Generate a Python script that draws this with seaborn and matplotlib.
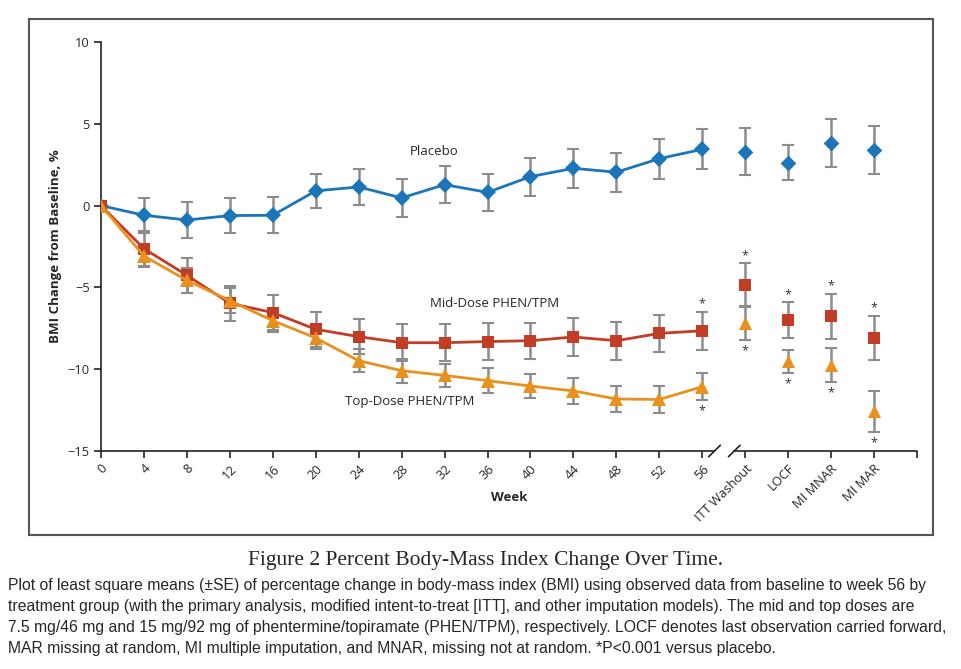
import numpy as np
import pandas as pd
import seaborn as sns
import matplotlib.pyplot as plt
from matplotlib.patches import Rectangle

# Values (percent BMI change, least square means +/- SE)
weeks = [0, 4, 8, 12, 16, 20, 24, 28, 32, 36, 40, 44, 48, 52, 56]
models = ['ITT Washout', 'LOCF', 'MI MNAR', 'MI MAR']

placebo_mean = [0, -0.59, -0.88, -0.61, -0.59, 0.90, 1.14, 0.47, 1.28, 0.81, 1.77, 2.28, 2.04, 2.87, 3.44]
placebo_se = [0, 1.06, 1.08, 1.08, 1.10, 1.06, 1.10, 1.14, 1.12, 1.15, 1.17, 1.19, 1.18, 1.22, 1.23]
placebo_model_mean = [3.30, 2.63, 3.81, 3.40]
placebo_model_se = [1.45, 1.08, 1.47, 1.49]

mid_mean = [0, -2.63, -4.26, -5.97, -6.54, -7.56, -8.01, -8.38, -8.38, -8.31, -8.26, -8.03, -8.26, -7.81, -7.65]
mid_se = [0, 1.06, 1.06, 1.07, 1.08, 1.08, 1.08, 1.12, 1.12, 1.11, 1.10, 1.14, 1.15, 1.14, 1.17]
mid_model_mean = [-4.83, -7.01, -6.77, -8.07]
mid_model_se = [1.30, 1.10, 1.39, 1.35]

top_mean = [0, -3.08, -4.57, -5.81, -7.03, -8.09, -9.48, -10.09, -10.38, -10.70, -11.03, -11.33, -11.82, -11.85, -11.07]
top_se = [0, 0.66, 0.75, 0.75, 0.70, 0.70, 0.72, 0.74, 0.70, 0.75, 0.76, 0.78, 0.80, 0.80, 0.83]
top_model_mean = [-7.20, -9.52, -9.72, -12.58]
top_model_se = [1.00, 0.71, 1.04, 1.24]

blue = '#1b76b9'
red = '#c23d26'
orange = '#e8911f'
bar_gray = '#8c8c8c'

sns.set_style('white')
plt.rcParams['font.family'] = ['Open Sans', 'DejaVu Sans']

fig = plt.figure(figsize=(9.61, 6.69), dpi=100)
ax = fig.add_axes([101 / 961, 1 - 451 / 669, 816 / 961, 409 / 669])

pos_weeks = np.arange(len(weeks))
pos_models = np.arange(len(weeks), len(weeks) + len(models))

groups = [
    ('Placebo', placebo_mean, placebo_se, placebo_model_mean, placebo_model_se, blue, 'D', 8),
    ('Mid-Dose PHEN/TPM', mid_mean, mid_se, mid_model_mean, mid_model_se, red, 's', 8),
    ('Top-Dose PHEN/TPM', top_mean, top_se, top_model_mean, top_model_se, orange, '^', 9.5),
]

for name, m, se, mm, mse, col, mk, ms in groups:
    df = pd.DataFrame({'pos': pos_weeks, 'val': m})
    dm = pd.DataFrame({'pos': pos_models, 'val': mm})
    ax.errorbar(pos_weeks[1:], m[1:], yerr=se[1:], fmt='none', ecolor=bar_gray,
                elinewidth=1.8, capsize=4, capthick=1.5, zorder=2)
    ax.errorbar(pos_models, mm, yerr=mse, fmt='none', ecolor=bar_gray,
                elinewidth=1.8, capsize=4, capthick=1.5, zorder=2)
    sns.lineplot(data=df, x='pos', y='val', color=col, lw=2, marker=mk,
                 markersize=ms, markeredgewidth=0, ax=ax, zorder=3)
    sns.scatterplot(data=dm, x='pos', y='val', color=col, marker=mk,
                    s=ms ** 2, linewidth=0, ax=ax, zorder=3)

# significance asterisks
star_kw = dict(ha='center', fontsize=9, color='#333333', textcoords='offset points')
sig_mid = [(pos_weeks[-1], mid_mean[-1], mid_se[-1])] + list(zip(pos_models, mid_model_mean, mid_model_se))
sig_top = [(pos_weeks[-1], top_mean[-1], top_se[-1])] + list(zip(pos_models, top_model_mean, top_model_se))
for p, m, s in sig_mid:
    ax.annotate('*', xy=(p, m + s), xytext=(0, 1), va='bottom', **star_kw)
for p, m, s in sig_top:
    ax.annotate('*', xy=(p, m - s), xytext=(0, -3), va='top', **star_kw)

# series labels
ax.text(7.18, 3.32, 'Placebo', fontsize=9.5, va='center', ha='left')
ax.text(7.67, -6.0, 'Mid-Dose PHEN/TPM', fontsize=9.5, va='center', ha='left')
ax.text(5.69, -11.97, 'Top-Dose PHEN/TPM', fontsize=9.5, va='center', ha='left')

ax.set_xlim(0, len(weeks) + len(models))
ax.set_ylim(-15, 10)
ax.set_yticks([-15, -10, -5, 0, 5, 10])
ax.set_yticklabels(['\u221215', '\u221210', '\u22125', '0', '5', '10'])
ax.set_xticks(np.arange(len(weeks) + len(models) + 1))
ax.set_xticklabels([str(w) for w in weeks] + models + [''], rotation=45,
                   ha='right', rotation_mode='anchor')
ax.tick_params(axis='both', direction='out', length=5, width=1.2, color='#222222',
               labelsize=9.3, pad=3, left=True, bottom=True)

for side in ['top', 'right', 'bottom']:
    ax.spines[side].set_visible(False)
ax.spines['left'].set_color('#222222')
ax.spines['left'].set_linewidth(1.2)

# broken x axis line with slashes
xt = ax.get_xaxis_transform()
gap_a, gap_b = 14.27, 14.73
ax.plot([0, gap_a], [0, 0], color='#222222', lw=1.2, transform=xt, clip_on=False)
ax.plot([gap_b, 19], [0, 0], color='#222222', lw=1.2, transform=xt, clip_on=False)
for g in (gap_a, gap_b):
    ax.plot([g - 0.12, g + 0.15], [-0.014, 0.014], color='#222222', lw=1.2,
            transform=xt, clip_on=False)

ax.set_xlabel('Week', fontsize=9.5, fontweight='bold')
ax.xaxis.set_label_coords((509 - 101) / 816, -(491 - 451) / 409)
ax.set_ylabel('BMI Change from Baseline, %', fontsize=9.5, fontweight='bold')
ax.yaxis.set_label_coords(-(101 - 62) / 816, 0.5)

# frame around the chart panel
fig.patches.append(Rectangle((29 / 961, 1 - 535 / 669), 904 / 961, 516 / 669,
                             transform=fig.transFigure, fill=False,
                             edgecolor='#555555', lw=1.5))

fig.text(486 / 961, 1 - 561 / 669, 'Figure 2 Percent Body-Mass Index Change Over Time.',
         ha='center', va='center', fontsize=15.5, family=['Liberation Serif', 'DejaVu Serif'])
caption = ('Plot of least square means (\u00b1SE) of percentage change in body-mass index (BMI) using observed data from baseline to week 56 by\n'
           'treatment group (with the primary analysis, modified intent-to-treat [ITT], and other imputation models). The mid and top doses are\n'
           '7.5 mg/46 mg and 15 mg/92 mg of phentermine/topiramate (PHEN/TPM), respectively. LOCF denotes last observation carried forward,\n'
           'MAR missing at random, MI multiple imputation, and MNAR, missing not at random. *P<0.001 versus placebo.')
fig.text(8 / 961, 1 - 578 / 669, caption, ha='left', va='top', fontsize=11.3,
         linespacing=1.5, family=['Liberation Sans', 'DejaVu Sans'])

fig.savefig('out.png', dpi=100, facecolor='white')
